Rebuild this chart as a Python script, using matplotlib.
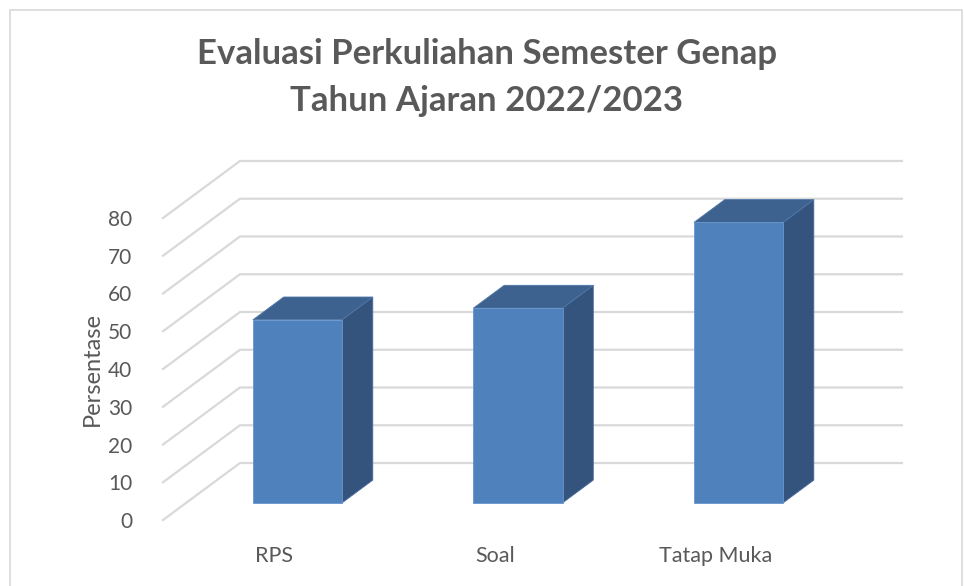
import matplotlib
matplotlib.use("Agg")
import matplotlib.pyplot as plt
from matplotlib.patches import Polygon, Rectangle

plt.rcParams['font.family'] = ['Lato', 'DejaVu Sans']

categories = ["RPS", "Soal", "Tatap Muka"]
values = [48.5, 51.6, 74.3]
y_ticks = [0, 10, 20, 30, 40, 50, 60, 70, 80]

title = "Evaluasi Perkuliahan Semester Genap\nTahun Ajaran 2022/2023"
ylabel = "Persentase"

FRONT = "#4f81bd"
SIDE = "#34547e"
TOP = "#3d628f"
GRID = "#d9d9d9"
TEXT = "#595959"

# oblique depth offset, in data units
DX = 0.349
DY = 15.1
W = 0.404
D0, D1 = 0.3, 0.7   # bar depth inside the floor

fig = plt.figure(figsize=(9.64, 5.86), dpi=100)
ax = fig.add_axes([0.1691, 0.1126, 0.6867, 0.5154])
x_lo, x_hi = -0.505, 2.497
ax.set_xlim(x_lo, x_hi)
ax.set_ylim(0, 80)
for s in ax.spines.values():
    s.set_visible(False)

# walls: side diagonal + back gridlines
for v in y_ticks:
    ax.plot([x_lo, x_lo + DX, x_hi + DX], [v, v + DY, v + DY],
            color=GRID, lw=1.6, clip_on=False, zorder=1)

xs = list(range(len(categories)))
bx = [x + D0 * DX for x in xs]
ax.bar(bx, values, width=W, bottom=D0 * DY, color=FRONT,
       edgecolor="#6a96cc", linewidth=0.6, zorder=3, clip_on=False)
dd = (D1 - D0)
for x, v in zip(bx, values):
    l, r = x - W / 2, x + W / 2
    b, t = D0 * DY, D0 * DY + v
    side = Polygon([(r, b), (r + dd * DX, b + dd * DY), (r + dd * DX, t + dd * DY), (r, t)],
                   closed=True, facecolor=SIDE, edgecolor="#4a6d9c", lw=0.6,
                   zorder=2.9, clip_on=False)
    top = Polygon([(l, t), (l + dd * DX, t + dd * DY), (r + dd * DX, t + dd * DY), (r, t)],
                  closed=True, facecolor=TOP, edgecolor="#4f77a8", lw=0.6,
                  zorder=2.9, clip_on=False)
    ax.add_patch(side)
    ax.add_patch(top)

ax.set_yticks(y_ticks)
ax.set_xticks(xs)
ax.set_xticklabels(categories)
ax.tick_params(axis="y", length=0, pad=22, labelsize=15, labelcolor=TEXT)
ax.tick_params(axis="x", length=0, pad=19, labelsize=15.5, labelcolor=TEXT)
ax.set_ylabel(ylabel, fontsize=17, color=TEXT, labelpad=4)

fig.text(0.505, 0.868, title, ha="center", va="center", fontsize=25,
         fontweight="bold", color=TEXT, linespacing=1.55)

fig.patches.append(Rectangle((10 / 964, -0.01), 952 / 964, 576 / 586 + 0.01,
                             transform=fig.transFigure, fill=False,
                             edgecolor=GRID, lw=1.2))

fig.savefig("out.png", dpi=100)
